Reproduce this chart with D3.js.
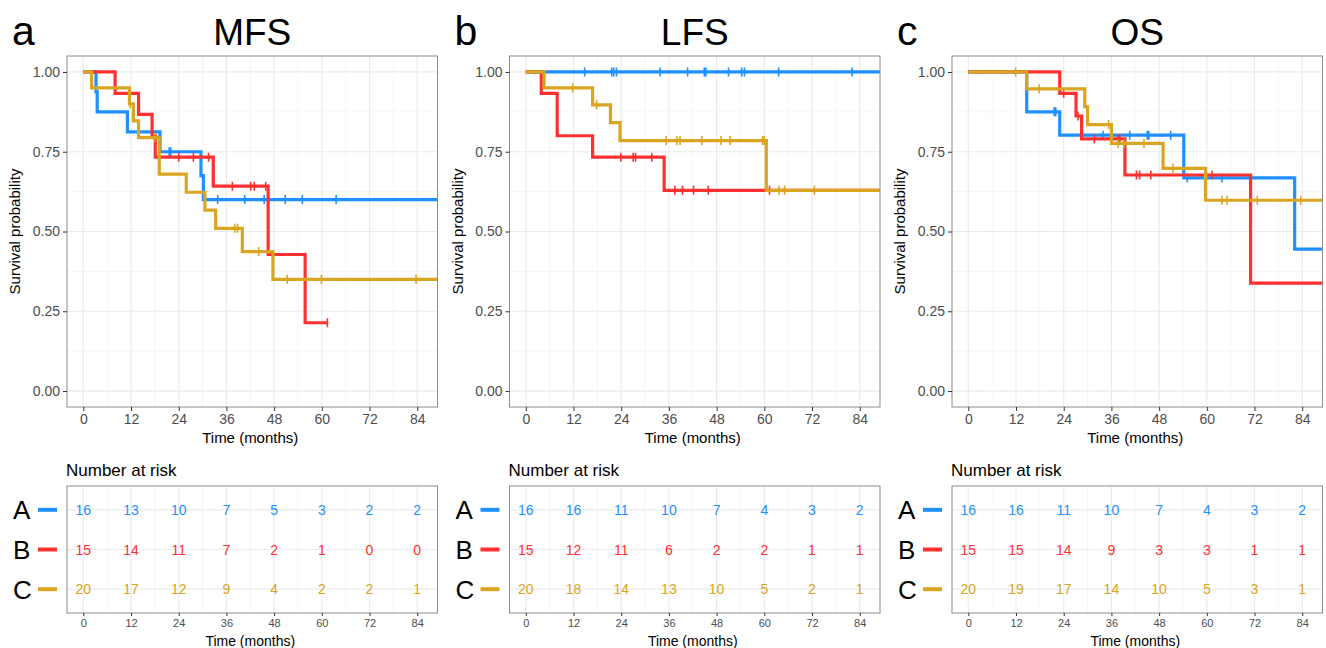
<!DOCTYPE html>
<html>
<head>
<meta charset="utf-8">
<script src="https://cdn.jsdelivr.net/npm/d3@7"></script>
<style>
  body { margin: 0; background: #fff; }
  text { font-family: "Liberation Sans", Arial, Helvetica, sans-serif; }
</style>
</head>
<body>
<svg id="chart" width="1326" height="648"></svg>
<script>
//DATA///////////////////////////////////
var groups = ["A", "B", "C"];
var timeBreaks = [0, 12, 24, 36, 48, 60, 72, 84];
var probBreaks = [0, 0.25, 0.5, 0.75, 1];

// step points [time, survival], end time and censor times
var mfsA = [[0, 1], [3.2, 0.9375], [3.5, 0.875], [11.1, 0.8125], [19.3, 0.75], [29.6, 0.675], [30.2, 0.6]];
var mfsB = [[0, 1], [8.0, 0.933], [13.9, 0.867], [17.3, 0.8], [18.1, 0.733], [32.7, 0.642], [46.5, 0.428], [55.8, 0.214]];
var mfsC = [[0, 1], [2.1, 0.95], [11.6, 0.9], [12.6, 0.847], [13.9, 0.794], [19.1, 0.68], [25.9, 0.623], [30.6, 0.567], [33.3, 0.51], [40.0, 0.437], [47.7, 0.35]];
var mfsEnd = [89.5, 61.4, 89.5];
var mfsCensA = [21.6, 22.0, 33.8, 40.6, 45.5, 50.8, 55.1, 63.6];
var mfsCensB = [24.0, 27.7, 31.5, 37.5, 42.1, 43.0, 45.9, 61.4];
var mfsCensC = [11.8, 17.9, 38.1, 38.8, 44.1, 51.3, 59.9, 83.7];

var lfsA = [[0, 1]];
var lfsB = [[0, 1], [3.9, 0.933], [7.9, 0.8], [16.8, 0.733], [34.8, 0.629]];
var lfsC = [[0, 1], [4.6, 0.95], [16.8, 0.897], [21.3, 0.841], [23.7, 0.785], [60.5, 0.629]];
var lfsEnd = [89.5, 89.5, 89.5];
var lfsCensA = [14.8, 21.6, 22.1, 22.8, 33.8, 40.7, 44.9, 45.3, 51.0, 54.3, 55.0, 63.6, 82.1];
var lfsCensB = [23.9, 27.0, 27.6, 31.7, 37.5, 39.4, 42.2, 45.9, 61.3];
var lfsCensC = [11.8, 17.8, 35.3, 38.0, 38.8, 44.3, 49.1, 51.4, 59.6, 60.0, 63.7, 65.1, 72.6];

var osA = [[0, 1], [14.7, 0.875], [23.0, 0.802], [54.2, 0.668], [82.1, 0.445]];
var osB = [[0, 1], [23.0, 0.933], [27.1, 0.862], [28.5, 0.79], [39.4, 0.677], [71.0, 0.338]];
var osC = [[0, 1], [14.7, 0.947], [29.3, 0.891], [30.0, 0.835], [36.0, 0.776], [49.0, 0.698], [59.7, 0.598]];
var osEnd = [89.5, 89.5, 89.5];
var osCensA = [21.6, 22.0, 33.9, 40.6, 45.0, 45.4, 50.9, 55.1, 63.8];
var osCensB = [24.0, 27.6, 31.7, 37.7, 38.1, 42.3, 43.1, 45.9, 61.3];
var osCensC = [11.9, 17.8, 35.3, 37.7, 39.2, 44.2, 51.5, 63.8, 65.1, 72.7, 83.6];

// number at risk at each time break
var mfsRisk = [[16, 13, 10, 7, 5, 3, 2, 2], [15, 14, 11, 7, 2, 1, 0, 0], [20, 17, 12, 9, 4, 2, 2, 1]];
var lfsRisk = [[16, 16, 11, 10, 7, 4, 3, 2], [15, 12, 11, 6, 2, 2, 1, 1], [20, 18, 14, 13, 10, 5, 2, 1]];
var osRisk = [[16, 16, 11, 10, 7, 4, 3, 2], [15, 15, 14, 9, 3, 3, 1, 1], [20, 19, 17, 14, 10, 5, 3, 1]];

var panels = [
  { tag: "a", title: "MFS", left: 67, steps: [mfsA, mfsB, mfsC], ends: mfsEnd, cens: [mfsCensA, mfsCensB, mfsCensC], risk: mfsRisk },
  { tag: "b", title: "LFS", left: 509.5, steps: [lfsA, lfsB, lfsC], ends: lfsEnd, cens: [lfsCensA, lfsCensB, lfsCensC], risk: lfsRisk },
  { tag: "c", title: "OS", left: 952, steps: [osA, osB, osC], ends: osEnd, cens: [osCensA, osCensB, osCensC], risk: osRisk }
];

//STYLE//////////////////////////////////
var colors = ["#1E90FF", "#FF3030", "#DAA520"];
var boxW = 370.5;
var plotTop = 56, plotBottom = 407;
var riskTop = 486, riskBottom = 613;
var gridMajor = "#EBEBEB", gridMinor = "#F4F4F4", borderCol = "#8C8C8C";
var tickText = "#4D4D4D";

var svg = d3.select("#chart");

// survival at time t from a step array
function survAt(steps, t) {
  var s = steps[0][1];
  steps.forEach(function (p) { if (p[0] <= t) s = p[1]; });
  return s;
}

panels.forEach(function (p, pi) {
  var x = d3.scaleLinear().domain([-4.1, 89.1]).range([p.left, p.left + boxW]);
  var y = d3.scaleLinear().domain([-0.05, 1.05]).range([plotBottom, plotTop]);
  var g = svg.append("g");

  //PANEL LETTER + TITLE
  g.append("text").attr("x", p.left - 55).attr("y", 45)
    .attr("font-size", 41).text(p.tag);
  g.append("text").attr("x", p.left + boxW / 2).attr("y", 45)
    .attr("text-anchor", "middle").attr("font-size", 37).text(p.title);

  //GRID
  var minorX = d3.range(6, 84, 12);
  var minorY = [0.125, 0.375, 0.625, 0.875];
  g.selectAll(".mx").data(minorX).join("line")
    .attr("x1", d => x(d)).attr("x2", d => x(d))
    .attr("y1", plotTop).attr("y2", plotBottom)
    .attr("stroke", gridMinor).attr("stroke-width", 0.8);
  g.selectAll(".my").data(minorY).join("line")
    .attr("x1", p.left).attr("x2", p.left + boxW)
    .attr("y1", d => y(d)).attr("y2", d => y(d))
    .attr("stroke", gridMinor).attr("stroke-width", 0.8);
  g.selectAll(".gx").data(timeBreaks).join("line")
    .attr("x1", d => x(d)).attr("x2", d => x(d))
    .attr("y1", plotTop).attr("y2", plotBottom)
    .attr("stroke", gridMajor).attr("stroke-width", 1.2);
  g.selectAll(".gy").data(probBreaks).join("line")
    .attr("x1", p.left).attr("x2", p.left + boxW)
    .attr("y1", d => y(d)).attr("y2", d => y(d))
    .attr("stroke", gridMajor).attr("stroke-width", 1.2);

  //CURVES
  var clipId = "clip" + pi;
  svg.append("clipPath").attr("id", clipId).append("rect")
    .attr("x", p.left).attr("y", plotTop).attr("width", boxW).attr("height", plotBottom - plotTop);
  var curves = g.append("g").attr("clip-path", "url(#" + clipId + ")");
  var line = d3.line().x(d => x(d[0])).y(d => y(d[1])).curve(d3.curveStepAfter);

  groups.forEach(function (grp, gi) {
    var steps = p.steps[gi];
    var pts = steps.concat([[p.ends[gi], steps[steps.length - 1][1]]]);
    curves.append("path").datum(pts)
      .attr("d", line)
      .attr("fill", "none")
      .attr("stroke", colors[gi])
      .attr("stroke-width", 3.2);
    curves.selectAll(".cens" + gi).data(p.cens[gi]).join("line")
      .attr("x1", d => x(d)).attr("x2", d => x(d))
      .attr("y1", d => y(survAt(steps, d)) - 4.5)
      .attr("y2", d => y(survAt(steps, d)) + 4.5)
      .attr("stroke", colors[gi]).attr("stroke-width", 1.6);
  });

  //BORDER
  g.append("rect").attr("x", p.left).attr("y", plotTop)
    .attr("width", boxW).attr("height", plotBottom - plotTop)
    .attr("fill", "none").attr("stroke", borderCol).attr("stroke-width", 1);

  //AXES
  var yAxis = g.append("g").attr("transform", "translate(" + p.left + ",0)")
    .call(d3.axisLeft(y).tickValues(probBreaks).tickFormat(d3.format(".2f")).tickSize(4).tickPadding(3));
  var xAxis = g.append("g").attr("transform", "translate(0," + plotBottom + ")")
    .call(d3.axisBottom(x).tickValues(timeBreaks).tickSize(4).tickPadding(3));
  [xAxis, yAxis].forEach(function (ax) {
    ax.select(".domain").remove();
    ax.selectAll(".tick line").attr("stroke", "#333");
    ax.selectAll(".tick text").attr("font-size", 14).attr("fill", tickText)
      .attr("font-family", '"Liberation Sans", Arial, sans-serif');
  });
  g.append("text").attr("x", x(42)).attr("y", 443)
    .attr("text-anchor", "middle").attr("font-size", 15).text("Time (months)");
  g.append("text")
    .attr("transform", "translate(" + (p.left - 47) + "," + ((plotTop + plotBottom) / 2) + ") rotate(-90)")
    .attr("text-anchor", "middle").attr("font-size", 15).text("Survival probability");

  //RISK TABLE
  var ry = d3.scaleLinear().domain([0.4, 3.6]).range([riskBottom, riskTop]);
  var rowY = function (gi) { return ry(3 - gi); };

  g.append("text").attr("x", p.left - 1).attr("y", 476)
    .attr("font-size", 17).text("Number at risk");

  g.selectAll(".rmx").data(minorX).join("line")
    .attr("x1", d => x(d)).attr("x2", d => x(d))
    .attr("y1", riskTop).attr("y2", riskBottom)
    .attr("stroke", gridMinor).attr("stroke-width", 0.8);
  g.selectAll(".rgx").data(timeBreaks).join("line")
    .attr("x1", d => x(d)).attr("x2", d => x(d))
    .attr("y1", riskTop).attr("y2", riskBottom)
    .attr("stroke", gridMajor).attr("stroke-width", 1.2);
  g.selectAll(".rgy").data(groups).join("line")
    .attr("x1", p.left).attr("x2", p.left + boxW)
    .attr("y1", (d, i) => rowY(i)).attr("y2", (d, i) => rowY(i))
    .attr("stroke", gridMajor).attr("stroke-width", 1.2);

  groups.forEach(function (grp, gi) {
    g.selectAll(".rn" + gi).data(p.risk[gi]).join("text")
      .attr("x", (d, i) => x(timeBreaks[i]))
      .attr("y", rowY(gi)).attr("dy", "0.36em")
      .attr("text-anchor", "middle").attr("font-size", 14)
      .attr("fill", colors[gi]).text(d => d);
    g.append("text").attr("x", p.left - 54).attr("y", rowY(gi)).attr("dy", "0.36em")
      .attr("font-size", 26).text(grp);
    g.append("rect").attr("x", p.left - 29).attr("y", rowY(gi) - 2)
      .attr("width", 19).attr("height", 4).attr("fill", colors[gi]);
  });

  g.append("rect").attr("x", p.left).attr("y", riskTop)
    .attr("width", boxW).attr("height", riskBottom - riskTop)
    .attr("fill", "none").attr("stroke", borderCol).attr("stroke-width", 1);

  var rAxis = g.append("g").attr("transform", "translate(0," + riskBottom + ")")
    .call(d3.axisBottom(x).tickValues(timeBreaks).tickSize(3).tickPadding(3));
  rAxis.select(".domain").remove();
  rAxis.selectAll(".tick line").attr("stroke", "#333");
  rAxis.selectAll(".tick text").attr("font-size", 11).attr("fill", tickText)
    .attr("font-family", '"Liberation Sans", Arial, sans-serif');
  g.append("text").attr("x", x(42)).attr("y", 646)
    .attr("text-anchor", "middle").attr("font-size", 14).text("Time (months)");
});
</script>
</body>
</html>
